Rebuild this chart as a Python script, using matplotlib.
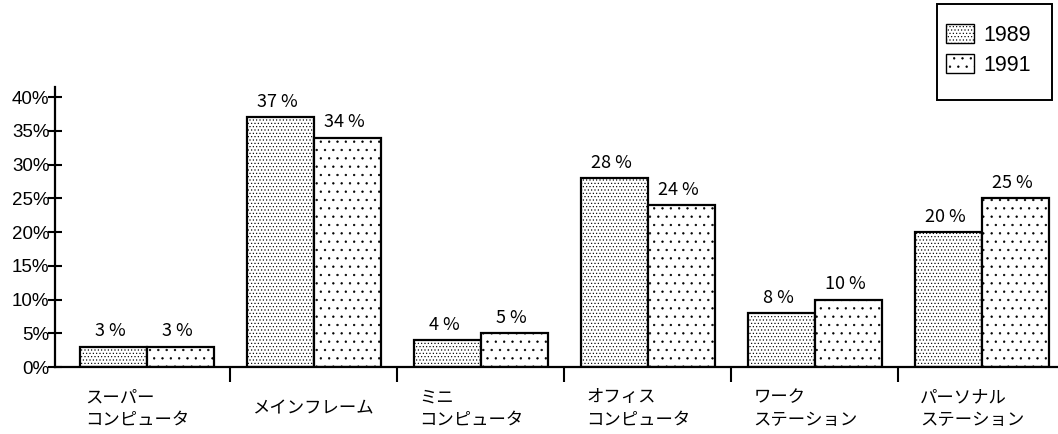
import matplotlib
matplotlib.use('Agg')
import matplotlib.pyplot as plt
from matplotlib.patches import Patch, Rectangle
import numpy as np

categories = ['スーパー\nコンピュータ', 'メインフレーム', 'ミニ\nコンピュータ',
              'オフィス\nコンピュータ', 'ワーク\nステーション', 'パーソナル\nステーション']
share_1989 = [3, 37, 4, 28, 8, 20]
share_1991 = [3, 34, 5, 24, 10, 25]
years = ['1989', '1991']
yticks = [0, 5, 10, 15, 20, 25, 30, 35, 40]

jp = ['Noto Sans CJK JP', 'DejaVu Sans']
plt.rcParams['hatch.linewidth'] = 0.45
plt.rcParams['hatch.color'] = 'black'

HATCH_89 = '.....'
HATCH_91 = '..'


def main():
    fig = plt.figure(figsize=(10.58, 4.34), dpi=100)
    ax = fig.add_axes([55 / 1058, 67 / 434, 1 - 55 / 1058, (367 - 87) / 434])

    x = np.arange(len(categories))
    w = 0.4
    b1 = ax.bar(x - w / 2, share_1989, w, color='white', edgecolor='black',
                linewidth=1.6, hatch=HATCH_89)
    b2 = ax.bar(x + w / 2, share_1991, w, color='white', edgecolor='black',
                linewidth=1.6, hatch=HATCH_91)

    # value labels above each bar
    for bars, vals in ((b1, share_1989), (b2, share_1991)):
        for r, v in zip(bars, vals):
            ax.annotate(f'{v} %', (r.get_x() + r.get_width() / 2, v),
                        xytext=(-2, 11), textcoords='offset points',
                        ha='center', va='center', fontsize=13, family=jp)

    # category names under the axis, left-aligned
    for i, name in enumerate(categories):
        ax.annotate(name, (i - w + 0.03, 0), xycoords=('data', 'axes fraction'),
                    xytext=(0, -30), textcoords='offset points',
                    ha='left', va='center', fontsize=12.5, family=jp,
                    linespacing=1.35)

    ax.set_xlim(-0.55, 5.455)
    ax.set_ylim(0, 41.5)
    ax.set_yticks(yticks)
    ax.set_yticklabels([f'{t}%' for t in yticks], family='Liberation Sans',
                       fontsize=13.5)
    ax.tick_params(axis='y', direction='inout', length=10, width=1.5, pad=-1)

    ax.set_xticks([])
    ax.set_xticks(np.arange(len(categories) - 1) + 0.5, minor=True)
    ax.tick_params(axis='x', which='minor', direction='out', length=11,
                   width=1.5)

    for s in ('top', 'right'):
        ax.spines[s].set_visible(False)
    for s in ('left', 'bottom'):
        ax.spines[s].set_linewidth(1.6)

    # legend box in the top right corner
    fig.patches.append(Rectangle((937 / 1058, 1 - 100 / 434), 115 / 1058,
                                 96 / 434, transform=fig.transFigure,
                                 facecolor='white', edgecolor='black',
                                 linewidth=1.4, zorder=5))
    handles = [Patch(facecolor='white', edgecolor='black', hatch=HATCH_89),
               Patch(facecolor='white', edgecolor='black', hatch=HATCH_91)]
    leg = fig.legend(handles, years, loc='upper left',
                     bbox_to_anchor=(946 / 1058, 1 - 24 / 434),
                     prop={'family': 'Liberation Sans', 'size': 15.5},
                     frameon=False, borderpad=0, borderaxespad=0,
                     handlelength=1.3, handleheight=0.95,
                     labelspacing=0.4, handletextpad=0.45)
    leg.set_zorder(6)

    fig.savefig('out.png', dpi=100)


if __name__ == '__main__':
    main()
